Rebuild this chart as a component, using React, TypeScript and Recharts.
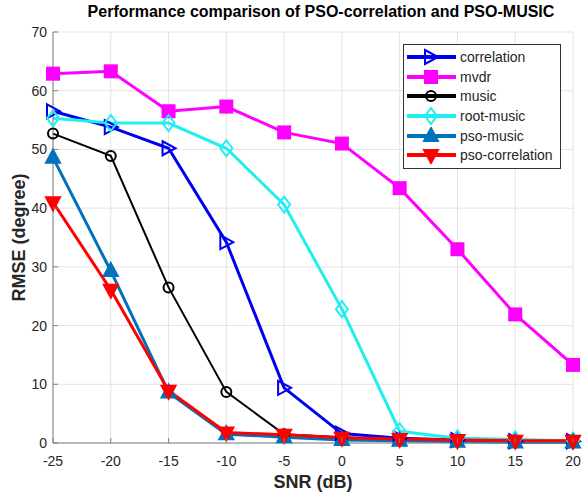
import { CartesianGrid, Line, LineChart, XAxis, YAxis, Label } from "recharts";

const SNR = [-25, -20, -15, -10, -5, 0, 5, 10, 15, 20];
const X_TICKS = [-25, -20, -15, -10, -5, 0, 5, 10, 15, 20];
const Y_TICKS = [0, 10, 20, 30, 40, 50, 60, 70];

const CORRELATION = [56.5, 53.8, 50.2, 34.2, 9.4, 1.6, 0.8, 0.5, 0.3, 0.3];
const MVDR = [62.9, 63.3, 56.5, 57.3, 52.9, 51.0, 43.4, 33.0, 21.9, 13.3];
const MUSIC = [52.7, 48.9, 26.5, 8.7, 1.5, 1.0, 0.6, 0.4, 0.3, 0.3];
const ROOT_MUSIC = [55.3, 54.5, 54.5, 50.2, 40.6, 22.8, 2.0, 0.8, 0.6, 0.4];
const PSO_MUSIC = [48.6, 29.3, 8.6, 1.5, 1.0, 0.5, 0.4, 0.2, 0.1, 0.1];
const PSO_CORRELATION = [41.0, 26.1, 8.9, 1.8, 1.4, 0.9, 0.7, 0.5, 0.4, 0.4];

const FONT = "'Liberation Sans', Arial, sans-serif";
const TICK_COLOR = "#262626";

type MarkerKind = "right" | "square" | "circle" | "diamond" | "up" | "down";

type Series = {
  key: string;
  name: string;
  color: string;
  width: number;
  marker: MarkerKind;
  fill: string;
  values: number[];
};

const SERIES: Series[] = [
  { key: "correlation", name: "correlation", color: "#0000f0", width: 3, marker: "right", fill: "none", values: CORRELATION },
  { key: "mvdr", name: "mvdr", color: "#ff00ff", width: 3, marker: "square", fill: "#ff00ff", values: MVDR },
  { key: "music", name: "music", color: "#000000", width: 2, marker: "circle", fill: "none", values: MUSIC },
  { key: "rootMusic", name: "root-music", color: "#22eeee", width: 3, marker: "diamond", fill: "none", values: ROOT_MUSIC },
  { key: "psoMusic", name: "pso-music", color: "#0072bd", width: 3, marker: "up", fill: "#0072bd", values: PSO_MUSIC },
  { key: "psoCorrelation", name: "pso-correlation", color: "#ff0000", width: 3, marker: "down", fill: "#ff0000", values: PSO_CORRELATION },
];

const rows = SNR.map((snr, i) => {
  const row: Record<string, number> = { snr };
  SERIES.forEach((s) => {
    row[s.key] = s.values[i];
  });
  return row;
});

function Marker({ kind, cx, cy, color, fill }: { kind: MarkerKind; cx: number; cy: number; color: string; fill: string }) {
  const common = { stroke: color, strokeWidth: 2, fill };
  switch (kind) {
    case "right":
      return <polygon {...common} points={`${cx - 6},${cy - 7} ${cx + 7},${cy} ${cx - 6},${cy + 7}`} />;
    case "square":
      return <rect {...common} x={cx - 6} y={cy - 6} width={12} height={12} />;
    case "circle":
      return <circle {...common} cx={cx} cy={cy} r={5} />;
    case "diamond":
      return <polygon {...common} points={`${cx},${cy - 8} ${cx + 6},${cy} ${cx},${cy + 8} ${cx - 6},${cy}`} />;
    case "up":
      return <polygon {...common} points={`${cx},${cy - 8} ${cx + 7},${cy + 5} ${cx - 7},${cy + 5}`} />;
    case "down":
      return <polygon {...common} points={`${cx},${cy + 8} ${cx + 7},${cy - 5} ${cx - 7},${cy - 5}`} />;
  }
}

function XTick(props: any) {
  const { x, y, payload } = props;
  return (
    <g>
      <line x1={x} x2={x} y1={y} y2={y - 5} stroke="#808080" />
      <text x={x} y={y + 23} textAnchor="middle" fontSize={14} fill={TICK_COLOR} fontFamily={FONT}>
        {payload.value}
      </text>
    </g>
  );
}

function YTick(props: any) {
  const { x, y, payload } = props;
  return (
    <g>
      <line x1={x} x2={x + 5} y1={y} y2={y} stroke="#808080" />
      <text x={x - 6} y={y + 5} textAnchor="end" fontSize={14} fill={TICK_COLOR} fontFamily={FONT}>
        {payload.value}
      </text>
    </g>
  );
}

function TopTick(props: any) {
  const { x, y } = props;
  return <line x1={x} x2={x} y1={y} y2={y + 5} stroke="#808080" />;
}

function RightTick(props: any) {
  const { x, y } = props;
  return <line x1={x} x2={x - 5} y1={y} y2={y} stroke="#808080" />;
}

// legend drawn as a plain overlay so it doesn't eat into the plot height
function LegendBox() {
  return (
    <div
      style={{
        position: "absolute",
        top: 44,
        left: 403,
        border: "1px solid #333",
        background: "#fff",
        width: 156,
        padding: "2px 0 3px 0",
        fontFamily: FONT,
        fontSize: 14,
        color: "#262626",
      }}
    >
      {SERIES.map((s) => (
        <div key={s.key} style={{ display: "flex", alignItems: "center", height: 19.7 }}>
          <svg width={56} height={18} style={{ flex: "none" }}>
            <line x1={3} x2={52} y1={9} y2={9} stroke={s.color} strokeWidth={4} />
            <Marker kind={s.marker} cx={27} cy={9} color={s.color} fill={s.fill} />
          </svg>
          <span style={{ lineHeight: "18px" }}>{s.name}</span>
        </div>
      ))}
    </div>
  );
}

export default function App() {
  return (
    <div style={{ position: "absolute", left: 0, top: 0, width: 583, height: 495, background: "#fff" }}>
      <div
        style={{
          position: "absolute",
          left: 61,
          width: 520,
          top: 3,
          textAlign: "center",
          fontFamily: FONT,
          fontWeight: "bold",
          fontSize: 16,
          color: "#000",
        }}
      >
        Performance comparison of PSO-correlation and PSO-MUSIC
      </div>
      <LineChart width={583} height={495} data={rows} margin={{ top: 32, right: 10, bottom: 22, left: 8 }}>
        <CartesianGrid stroke="#e3e3e3" strokeWidth={1} verticalValues={X_TICKS} horizontalValues={Y_TICKS} />
        <XAxis
          dataKey="snr"
          type="number"
          domain={[-25, 20]}
          ticks={X_TICKS}
          height={30}
          tickSize={0}
          tickMargin={0}
          tickLine={false}
          axisLine={{ stroke: "#808080" }}
          tick={<XTick />}
        >
          <Label
            value="SNR (dB)"
            position="insideBottom"
            offset={-15}
            style={{ fontFamily: FONT, fontWeight: "bold", fontSize: 18, fill: "#262626" }}
          />
        </XAxis>
        <XAxis
          xAxisId="top"
          orientation="top"
          dataKey="snr"
          type="number"
          domain={[-25, 20]}
          ticks={X_TICKS}
          height={0}
          tickSize={0}
          tickLine={false}
          axisLine={{ stroke: "#808080" }}
          tick={<TopTick />}
        />
        <YAxis
          type="number"
          domain={[0, 70]}
          ticks={Y_TICKS}
          width={45}
          tickSize={0}
          tickMargin={0}
          tickLine={false}
          axisLine={{ stroke: "#808080" }}
          tick={<YTick />}
        >
          <Label
            value="RMSE (degree)"
            angle={-90}
            position="insideLeft"
            offset={11}
            style={{ textAnchor: "middle", fontFamily: FONT, fontWeight: "bold", fontSize: 18, fill: "#262626" }}
          />
        </YAxis>
        <YAxis
          yAxisId="right"
          orientation="right"
          type="number"
          domain={[0, 70]}
          ticks={Y_TICKS}
          width={0}
          tickSize={0}
          tickLine={false}
          axisLine={{ stroke: "#808080" }}
          tick={<RightTick />}
        />
        {SERIES.map((s) => (
          <Line
            key={s.key}
            dataKey={s.key}
            name={s.name}
            stroke={s.color}
            strokeWidth={s.width}
            isAnimationActive={false}
            dot={(p: any) => (
              <Marker key={`${s.key}-${p.index}`} kind={s.marker} cx={p.cx} cy={p.cy} color={s.color} fill={s.fill} />
            )}
            activeDot={false}
          />
        ))}
      </LineChart>
      <LegendBox />
    </div>
  );
}
